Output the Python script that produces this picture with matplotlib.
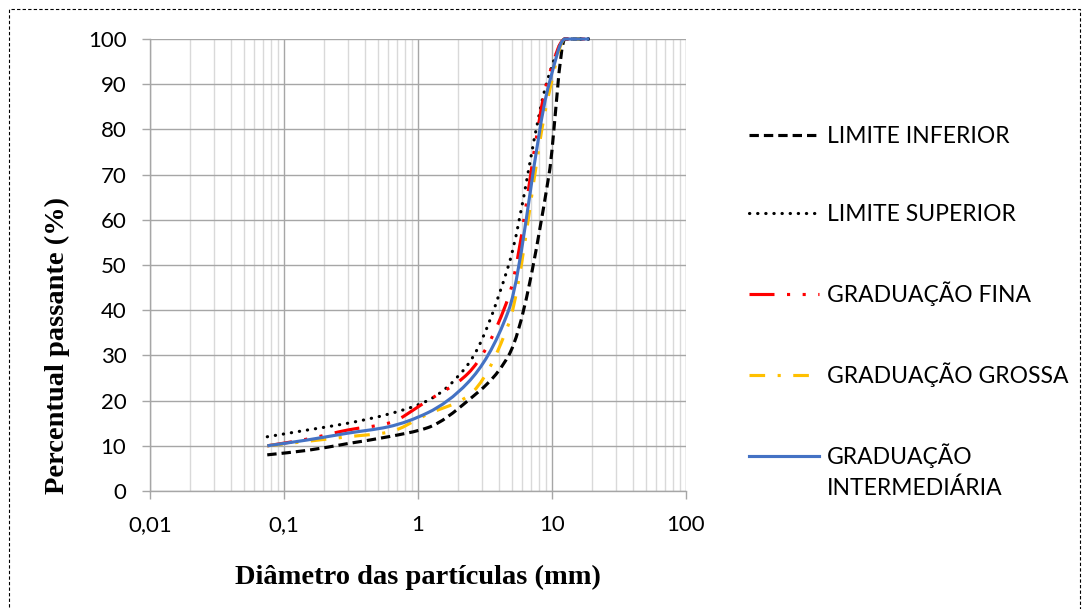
import numpy as np
import matplotlib
matplotlib.use("Agg")
import matplotlib.pyplot as plt
from matplotlib.path import Path
from matplotlib.patches import PathPatch, Rectangle
from matplotlib.lines import Line2D
from matplotlib.ticker import FixedLocator, NullFormatter

# ---- data ----
sieves = [0.075, 0.15, 0.3, 0.6, 1.18, 2.36, 4.75, 9.5, 12.5, 19.0]
lim_inf = [8, 9, 10.5, 12, 14, 20, 30, 70, 100, 100]
lim_sup = [12, 13.5, 15, 17, 20, 28, 50, 92, 100, 100]
grad_fina = [10, 11.5, 13.5, 15, 20, 26, 43, 92, 100, 100]
grad_grossa = [10, 11, 12, 13, 17, 21, 37, 88, 100, 100]
grad_inter = [10, 11.3, 12.8, 14.2, 17.3, 24, 40, 90, 100, 100]

labels = ["LIMITE INFERIOR", "LIMITE SUPERIOR", "GRADUAÇÃO FINA",
          "GRADUAÇÃO GROSSA", "GRADUAÇÃO", ]
label_extra = "INTERMEDIÁRIA"
xtick_vals = [0.01, 0.1, 1, 10, 100]
xtick_labels = ["0,01", "0,1", "1", "10", "100"]
ytick_vals = list(range(0, 101, 10))
xlabel = "Diâmetro das partículas (mm)"
ylabel = "Percentual passante (%)"

styles = [
    dict(color="black", ls=(0, (3.0, 1.6)), lw=2.25, cap="butt"),
    dict(color="black", ls=(0, (0.1, 2.5)), lw=2.25, cap="round"),
    dict(color="#FF0000", ls=(0, (8, 4, 1, 4, 1, 4)), lw=2.25, cap="butt"),
    dict(color="#FFC000", ls=(0, (5, 4, 1, 4)), lw=2.25, cap="butt"),
    dict(color="#4472C4", ls="-", lw=2.25, cap="butt"),
]
series = [lim_inf, lim_sup, grad_fina, grad_grossa, grad_inter]

UI_FONT = "Lato"
LEG_SIZE = 16.5


def smooth_path(xs, ys):
    """Monotone cubic (Fritsch-Carlson) Bezier smoothing in (log x, y) space."""
    lx = np.log10(np.asarray(xs, float))
    y = np.asarray(ys, float)
    n = len(lx)
    h = np.diff(lx)
    dl = np.diff(y) / h
    m = np.zeros(n)
    m[0] = dl[0]
    m[-1] = dl[-1]
    for k in range(1, n - 1):
        if dl[k - 1] * dl[k] <= 0:
            m[k] = 0.0
        else:
            w1 = 2 * h[k] + h[k - 1]
            w2 = h[k] + 2 * h[k - 1]
            m[k] = (w1 + w2) / (w1 / dl[k - 1] + w2 / dl[k])
    verts = [(xs[0], y[0])]
    codes = [Path.MOVETO]
    for k in range(n - 1):
        c1 = (10 ** (lx[k] + h[k] / 3), y[k] + m[k] * h[k] / 3)
        c2 = (10 ** (lx[k + 1] - h[k] / 3), y[k + 1] - m[k + 1] * h[k] / 3)
        verts += [c1, c2, (xs[k + 1], y[k + 1])]
        codes += [Path.CURVE4] * 3
    return Path(verts, codes)


fig = plt.figure(figsize=(10.83, 6.09), dpi=100)
ax = fig.add_axes([150 / 1083, 1 - 491 / 609, 536 / 1083, 452 / 609])
ax.set_xscale("log")
ax.set_xlim(0.01, 100)
ax.set_ylim(0, 100)

ax.xaxis.set_major_locator(FixedLocator(xtick_vals))
ax.set_xticklabels(xtick_labels)
minors = [mm * 10.0 ** e for e in range(-2, 2) for mm in range(2, 10)]
ax.xaxis.set_minor_locator(FixedLocator(minors))
ax.xaxis.set_minor_formatter(NullFormatter())
ax.set_yticks(ytick_vals)

ax.grid(True, which="major", axis="both", color="#a6a6a6", lw=1.0)
ax.grid(True, which="minor", axis="x", color="#d9d9d9", lw=1.0)
ax.set_axisbelow(True)
ax.tick_params(which="minor", length=0)
ax.tick_params(which="major", length=6, color="#a6a6a6", width=1.0, direction="out",
               labelsize=16, pad=11)
for lab in ax.get_xticklabels() + ax.get_yticklabels():
    lab.set_fontfamily(UI_FONT)
for s in ax.spines.values():
    s.set_color("#a6a6a6")
    s.set_linewidth(1.0)
ax.spines["top"].set_visible(False)
ax.spines["right"].set_visible(False)

handles = []
for ys, st, lab in zip(series, styles, labels):
    p = smooth_path(sieves, ys)
    patch = PathPatch(p, fill=False, edgecolor=st["color"], lw=st["lw"],
                      linestyle=st["ls"], capstyle=st["cap"], clip_on=False, zorder=3)
    ax.add_patch(patch)
    handles.append(Line2D([], [], color=st["color"], lw=st["lw"], linestyle=st["ls"],
                          dash_capstyle=st["cap"], label=lab))

ax.set_xlabel(xlabel, fontfamily="Liberation Serif", fontweight="bold", fontsize=20.5,
              labelpad=22)
ax.set_ylabel(ylabel, fontfamily="Liberation Serif", fontweight="bold", fontsize=20.5)
ax.yaxis.set_label_coords((70 - 150) / 536, (491 - 345) / 452)

leg = fig.legend(handles=handles, loc="upper left", bbox_to_anchor=(749 / 1083, 1 - 126 / 609),
                 frameon=False, prop={"family": UI_FONT, "size": LEG_SIZE},
                 handlelength=3.05, handletextpad=0.35, labelspacing=2.47,
                 borderpad=0, borderaxespad=0)

# second line of the last legend label, placed right under the first line
fig.canvas.draw()
last = leg.get_texts()[-1]
bb = last.get_window_extent()
fig.text(bb.x0 / fig.bbox.width, (bb.y0 - 31) / fig.bbox.height, label_extra,
         fontfamily=UI_FONT, fontsize=LEG_SIZE, ha="left", va="bottom")

# dashed outer frame
fig.patches.append(Rectangle((9 / 1083, -0.02), (1080 - 9) / 1083, 1 - 9 / 609 + 0.02,
                             transform=fig.transFigure, fill=False, edgecolor="black",
                             lw=0.8, linestyle=(0, (3, 2)), zorder=0))

fig.savefig("out.png", dpi=100)
